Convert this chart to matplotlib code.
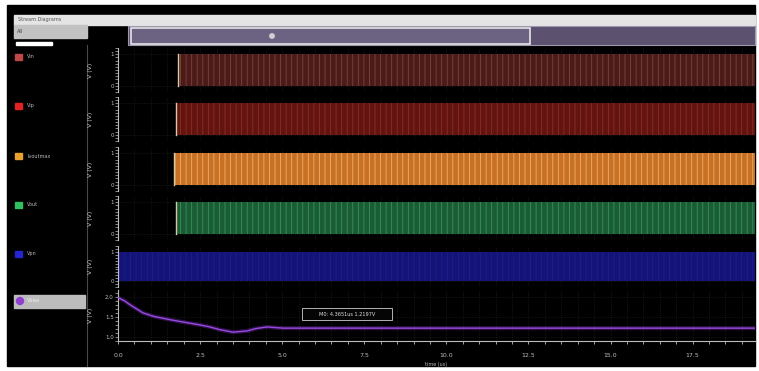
import numpy as np
import matplotlib.pyplot as plt
from matplotlib.patches import Rectangle, Circle
from matplotlib.ticker import MultipleLocator, FixedLocator

W, H = 759, 371

# signal names shown in the left column
names = ['Vin', 'Vip', 'Ivoutmax', 'Vout', 'Vpn', 'Vbias']
colors = ['#c04848', '#e02222', '#e8a030', '#30c060', '#2424d0', '#9040d0']

# digital rows: time (us) where toggling starts, band colours
dig_start = [1.83, 1.77, 1.71, 1.77, 0.0]
t_end = 19.4
band_face = ['#4a1b18', '#621410', '#c87024', '#1a5c34', '#131378']
band_stripe = ['#7e443c', '#922c22', '#eeb06a', '#3a9060', '#1e1e92']

# analog row (purple trace)
bias_t = [0.0, 0.2, 0.37, 0.76, 1.1, 1.59, 2.0, 2.5, 2.8, 3.11, 3.5, 3.93,
          4.2, 4.54, 5.03, 7.5, 10.0, 12.5, 15.0, 17.5, 19.4]
bias_v = [1.98, 1.90, 1.80, 1.60, 1.51, 1.43, 1.37, 1.30, 1.25, 1.18, 1.12,
          1.15, 1.21, 1.25, 1.22, 1.22, 1.22, 1.22, 1.22, 1.22, 1.22]

xticks = [0.0, 2.5, 5.0, 7.5, 10.0, 12.5, 15.0, 17.5]
xlabels = ['0.0', '2.5', '5.0', '7.5', '10.0', '12.5', '15.0', '17.5']
marker_text = 'M0: 4.3651us 1.2197V'

# pixel boxes (top, bottom) of the six strips
rows_px = [(48, 92), (97, 141), (147, 191), (196, 240), (246, 287), (290, 341)]
legend_y = [57, 106, 156, 205, 254, 301]
X0, X1 = 118, 755

plt.rcParams['hatch.linewidth'] = 0.6

fig = plt.figure(figsize=(W / 100, H / 100), dpi=100, facecolor='white')


def box(x0, y0, x1, y1):
    return [x0 / W, 1 - y1 / H, (x1 - x0) / W, (y1 - y0) / H]


# window chrome drawn in pixel coordinates
ui = fig.add_axes([0, 0, 1, 1])
ui.set_xlim(0, W)
ui.set_ylim(H, 0)
ui.axis('off')
ui.add_patch(Rectangle((7, 5), 748, 361, color='black'))
ui.add_patch(Rectangle((14, 15), 741, 10, color='#e4e4e4'))
ui.text(18, 20, 'Stream Diagrams', fontsize=3.5, color='#555555', va='center')
ui.add_patch(Rectangle((14, 25), 73, 13, color='#c2c2c2'))
ui.text(17, 31.5, 'All', fontsize=3.5, color='#444444', va='center')
ui.add_patch(Rectangle((16, 42), 36, 3, color='white'))
ui.add_patch(Rectangle((128, 26), 627, 19, fc='#5c5270', ec='#a09ab0', lw=0.8))
ui.add_patch(Rectangle((131, 28), 399, 16, fc='#6c6282', ec='#e6e6e6', lw=1.2))
ui.add_patch(Circle((272, 36), 2.2, color='#d0d0d0'))
ui.plot([87, 87], [45, 366], color='#4a4a4a', lw=0.8)

for i, (nm, c, y) in enumerate(zip(names, colors, legend_y)):
    if i == len(names) - 1:
        ui.add_patch(Rectangle((14, y - 6), 71, 13, color='#bcbcbc'))
        ui.add_patch(Circle((20, y), 3.5, color=c))
        ui.text(27, y, nm, fontsize=3.5, color='#eeeeee', va='center')
    else:
        ui.add_patch(Rectangle((15, y - 3), 7, 6, color=c))
        ui.text(27, y, nm, fontsize=3.5, color='#bbbbbb', va='center')


def style_axes(ax, last=False):
    ax.set_facecolor('black')
    for s in ['top', 'right']:
        ax.spines[s].set_visible(False)
    ax.spines['left'].set_color('#bdbdbd')
    ax.spines['left'].set_linewidth(0.8)
    ax.spines['bottom'].set_visible(last)
    ax.spines['bottom'].set_color('#bdbdbd')
    ax.set_xlim(0, t_end)
    ax.xaxis.set_major_locator(FixedLocator(xticks))
    ax.xaxis.set_minor_locator(MultipleLocator(0.5))
    ax.grid(True, which='both', axis='x', color='#242424', lw=0.5, ls=':')
    ax.grid(True, which='major', axis='y', color='#242424', lw=0.5, ls=':')
    ax.tick_params(axis='y', which='both', colors='#bdbdbd', labelsize=4,
                   length=2, width=0.5, pad=1)
    ax.yaxis.set_minor_locator(MultipleLocator(0.1))
    ax.set_ylabel('V (V)', fontsize=4.5, color='#cccccc')
    ax.yaxis.set_label_coords(-0.04, 0.5)
    if last:
        ax.set_xticks(xticks)
        ax.set_xticklabels(xlabels)
        ax.tick_params(axis='x', which='both', colors='#bdbdbd', labelsize=4.5,
                       length=2.5, width=0.6, pad=6)
        ax.set_xlabel('time (us)', fontsize=3.5, color='#bbbbbb', labelpad=3)
    else:
        ax.tick_params(axis='x', which='both', length=0, labelbottom=False)


for i in range(5):
    top, bot = rows_px[i]
    ax = fig.add_axes(box(X0, top, X1, bot))
    style_axes(ax)
    ax.set_ylim(-0.2, 1.2)
    ax.set_yticks([0, 1])
    ax.set_yticklabels(['0', '1'])
    st = dig_start[i]
    ax.fill_between([st, t_end], [0, 0], [1, 1], facecolor=band_face[i],
                    edgecolor=band_stripe[i], hatch='|||', lw=0, zorder=2)
    if st > 0:
        ax.plot([st, st], [0, 1], color='#d8c8a8', lw=1.0, zorder=3)

ax = fig.add_axes(box(X0, rows_px[5][0], X1, rows_px[5][1]))
style_axes(ax, last=True)
ax.set_ylim(0.9, 2.17)
ax.set_yticks([1.0, 1.5, 2.0])
ax.set_yticklabels(['1.0', '1.5', '2.0'])
ax.plot(bias_t, bias_v, color='#7a2ec8', lw=3.0, alpha=0.35, zorder=2)
ax.plot(bias_t, bias_v, color='#9a4ae0', lw=1.0, zorder=3)

# marker readout box
ax_m = fig.add_axes([0, 0, 1, 1], facecolor='none')
ax_m.set_xlim(0, W)
ax_m.set_ylim(H, 0)
ax_m.axis('off')
ax_m.add_patch(Rectangle((302, 308), 90, 12, fc='#050505', ec='#cfcfcf', lw=0.6))
ax_m.text(347, 314, marker_text, fontsize=3.6, color='#e0e0e0',
          ha='center', va='center')

fig.savefig('out.png', dpi=100, facecolor='white')
